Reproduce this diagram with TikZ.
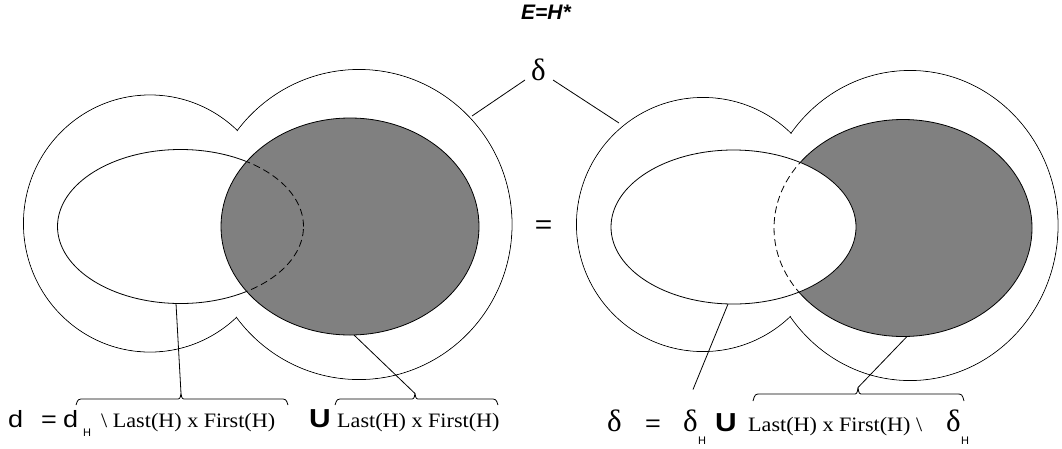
\documentclass[tikz,border=0pt]{standalone}
\usepackage{fontspec}
\setmainfont{Liberation Serif}
\newfontfamily\tms[FakeStretch=1.08]{Liberation Serif}
\newfontfamily\hvs[FakeStretch=1.15]{Liberation Sans}
\newfontfamily\hvn{Liberation Sans}
\definecolor{shade}{rgb}{0.5,0.5,0.5}
\tikzset{
  ln/.style={line width=0.8pt, line join=round},
  tx/.style={inner sep=0pt, anchor=base west},
  serif/.style={font=\tms\fontsize{20.5}{24}\selectfont},
  sansL/.style={font=\hvs\fontsize{23.5}{27}\selectfont},
  sansB/.style={font=\hvs\fontsize{26}{30}\selectfont\bfseries},
  dlt/.style={font=\fontsize{31}{36}\selectfont},
  subH/.style={font=\hvn\fontsize{11}{13}\selectfont},
  dsh/.style={dash pattern=on 7pt off 4pt},
}
\newcommand\mybrace[6]{%
  \draw[ln] (#1,#6) .. controls (#1+2,#4) .. (#1+8,#4) -- (#3-5,#4)
    .. controls (#3-1,#4) .. (#3,#5) .. controls (#3+1,#4) .. (#3+5,#4)
    -- (#2-8,#4) .. controls (#2-2,#4) .. (#2,#6);}
\begin{document}
\begin{tikzpicture}[x=1pt,y=-1pt]
\useasboundingbox (0,0) rectangle (1062,448);

% ---------- left figure ----------
\draw[ln] (150,223.5) ellipse [x radius=126.5pt, y radius=128.5pt];
\draw[ln] (359,224.5) ellipse [x radius=153pt, y radius=155pt];
\fill[white] (150,223.5) ellipse [x radius=125.9pt, y radius=127.9pt];
\fill[white] (359,224.5) ellipse [x radius=152.4pt, y radius=154.4pt];
\draw[ln, fill=white] (180.5,226.5) ellipse [x radius=123pt, y radius=77pt];
\draw[ln, fill=shade] (350,226.5) ellipse [x radius=129pt, y radius=108.5pt];
\begin{scope}
  \clip (350,226.5) ellipse [x radius=129pt, y radius=108.5pt];
  \draw[ln, dsh] (180.5,226.5) ellipse [x radius=123pt, y radius=77pt];
\end{scope}

% ---------- right figure ----------
\draw[ln] (703,224.5) ellipse [x radius=126.5pt, y radius=127pt];
\draw[ln] (910,225.5) ellipse [x radius=148pt, y radius=155pt];
\fill[white] (703,224.5) ellipse [x radius=125.9pt, y radius=126.4pt];
\fill[white] (910,225.5) ellipse [x radius=147.4pt, y radius=154.4pt];
\draw[ln, fill=shade] (903,228) ellipse [x radius=129pt, y radius=108.5pt];
\draw[ln, fill=white] (733.5,227) ellipse [x radius=122.5pt, y radius=77pt];
\begin{scope}
  \clip (733.5,227) ellipse [x radius=122.5pt, y radius=77pt];
  \draw[ln, dsh] (903,228) ellipse [x radius=129pt, y radius=108.5pt];
\end{scope}

% ---------- title, delta, equals ----------
\node[font=\hvn\fontsize{21}{25}\selectfont\bfseries\itshape] (title) at (546,12.5) {E=H*};
\node[tx, dlt] (dtop) at (531,80) {δ};
\node[font=\hvs\fontsize{26}{30}\selectfont] (eqmid) at (543.5,227) {=};

\coordinate (dl1) at (525,80);
\coordinate (dl2) at (472,116);
\coordinate (dr1) at (553,80);
\coordinate (dr2) at (619,123);
\draw[ln] (dl1) -- (dl2);
\draw[ln] (dr1) -- (dr2);

% ---------- braces ----------
\mybrace{76}{288}{181}{399}{393.5}{405}
\mybrace{335}{498}{415}{399}{393.5}{405}
\mybrace{753}{964}{858}{394}{387.5}{401}

\coordinate (b1) at (181,393.5);
\coordinate (b2) at (415,393.5);
\coordinate (b3) at (858,387.5);
\coordinate (i1b) at (176,303.5);
\coordinate (g1b) at (354,335);
\coordinate (i2b) at (728,304);
\coordinate (g2b) at (907,336.5);
\coordinate (l3e) at (693,389.5);
\draw[ln] (i1b) -- (b1);
\draw[ln] (g1b) -- (b2);
\draw[ln] (i2b) -- (l3e);
\draw[ln] (g2b) -- (b3);

% ---------- bottom left formula ----------
\node[tx, sansL] (d1) at (8,427) {d};
\node[tx, sansL] (eq1) at (41,427) {=};
\node[tx, sansL] (d2) at (63,427) {d};
\node[tx, subH] (h1) at (83,436) {H};
\node[tx, serif] (t1) at (101,427) {\textbackslash\ Last(H) x First(H)};
\node[tx, sansB] (u1) at (309,427) {U};
\node[tx, serif] (t2) at (337,427) {Last(H) x First(H)};

% ---------- bottom right formula ----------
\node[tx, dlt] (d3) at (607,431) {δ};
\node[tx, sansL] (eq2) at (645,431) {=};
\node[tx, dlt] (d4) at (683,431) {δ};
\node[tx, subH] (h2) at (698,444) {H};
\node[tx, sansB] (u2) at (715,431) {U};
\node[tx, serif] (t3) at (748,431) {Last(H) x First(H) \textbackslash};
\node[tx, dlt] (d5) at (946,431) {δ};
\node[tx, subH] (h3) at (961,444) {H};
\end{tikzpicture}
\end{document}
